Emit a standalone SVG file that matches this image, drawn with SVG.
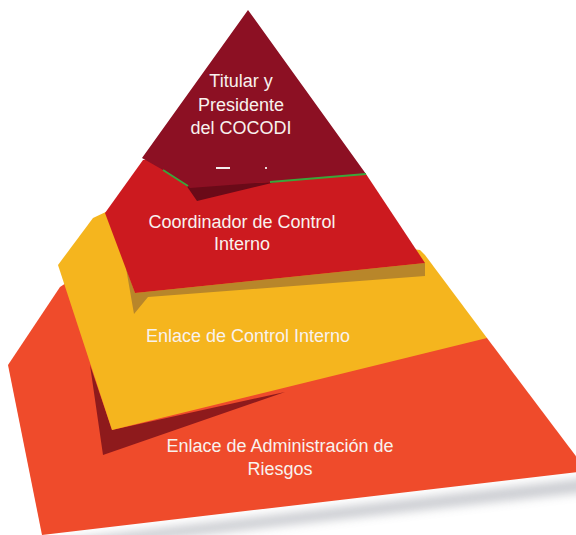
<svg xmlns="http://www.w3.org/2000/svg" width="576" height="535" viewBox="0 0 576 535">
  <defs>
    <filter id="soft" x="-10%" y="-50%" width="120%" height="200%">
      <feGaussianBlur stdDeviation="5"/>
    </filter>
    <style>
      .lbl { font-family: "Liberation Sans", Arial, sans-serif; font-size: 18px; fill: #F8F2EE; text-anchor: middle; }
    </style>
  </defs>
  <rect width="576" height="535" fill="#FFFFFF"/>

  <!-- ground shadow -->
  <polygon points="60,540 587,478 587,492 80,548" fill="#8E929C" opacity="0.45" filter="url(#soft)"/>

  <g id="tier4-riesgos">
    <polygon points="60,287 8,365 42,535 587,471 487,338 300,300 66,283" fill="#EF4B2B"/>
    <polygon points="90,365 103,455 285,392 112,430" fill="#8E1A1C"/>
    <text class="lbl" x="280" y="452">Enlace de Administración de</text>
    <text class="lbl" x="280" y="475">Riesgos</text>
  </g>

  <g id="tier3-enlace-control">
    <polygon points="93,218 58,265 112,430 487,338 425,255 420,250 110,210" fill="#F5B51E"/>
    <polygon points="126,268 134,314 148,297 425,276 425,263 135,293" fill="#B8862A"/>
    <text class="lbl" x="248" y="342">Enlace de Control Interno</text>
  </g>

  <g id="tier2-coordinador">
    <polygon points="143,160 105,213 135,293 425,263 366,174 250,150" fill="#CC1A1F"/>
    <polygon points="186,185 197,201 276,182" fill="#6A0A18"/>
    <text class="lbl" x="242" y="228">Coordinador de Control</text>
    <text class="lbl" x="242" y="250">Interno</text>
  </g>

  <g id="tier1-titular">
    <polygon points="248,10 366,174 268,182 190,188 163,170 142,158" fill="#8C1023"/>
    <polyline points="163,170 188,186" fill="none" stroke="#3AA63A" stroke-width="2"/>
    <polyline points="270,182 366,174" fill="none" stroke="#3AA63A" stroke-width="2"/>
    <rect x="216" y="167" width="14" height="2" fill="#F2EEEE"/>
    <rect x="265" y="167" width="2" height="2" fill="#E8DADA"/>
    <text class="lbl" x="241" y="87">Titular y</text>
    <text class="lbl" x="241" y="111">Presidente</text>
    <text class="lbl" x="241" y="134">del COCODI</text>
  </g>

  <g id="connectors"/>
</svg>
